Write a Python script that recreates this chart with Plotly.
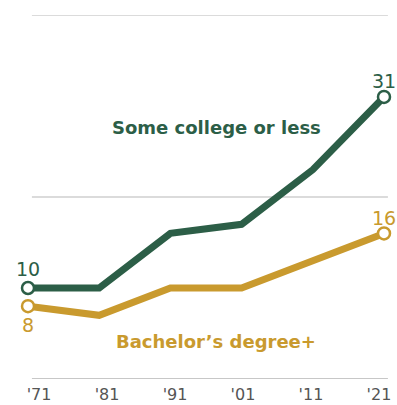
import plotly.graph_objects as go

years = [1971, 1981, 1991, 2001, 2011, 2021]
tick_labels = ["'71", "'81", "'91", "'01", "'11", "'21"]
some_college = [10, 10, 16, 17, 23, 31]
bachelors = [8, 7, 10, 10, 13, 16]

GREEN = "#2c5e47"
GOLD = "#c99a2e"
FONT = "DejaVu Sans"

fig = go.Figure()

for vals, col in [(bachelors, GOLD), (some_college, GREEN)]:
    fig.add_trace(go.Scatter(
        x=years, y=vals, mode="lines", line=dict(color=col, width=7),
        cliponaxis=False, hoverinfo="skip", showlegend=False))
    fig.add_trace(go.Scatter(
        x=[years[0], years[-1]], y=[vals[0], vals[-1]], mode="markers",
        marker=dict(size=12, color="white", line=dict(color=col, width=2.5)),
        cliponaxis=False, hoverinfo="skip", showlegend=False))

# invisible trace for the label axis
fig.add_trace(go.Scatter(x=years, y=[0]*len(years), xaxis="x2", mode="markers",
                         marker=dict(opacity=0), hoverinfo="skip", showlegend=False))

# gridlines
for gy, gc in [(0, "#b5b5b5"), (20, "#cfcfcf"), (40, "#cfcfcf")]:
    fig.add_shape(type="line", xref="paper", yref="y", x0=0.011, x1=1.011,
                  y0=gy, y1=gy, line=dict(color=gc, width=1.3), layer="below")

def lab(x, y, t, col, yshift, size=19):
    fig.add_annotation(x=x, y=y, text=t, showarrow=False, yshift=yshift,
                       font=dict(family=FONT, size=size, color=col))

lab(years[0], some_college[0], str(some_college[0]), GREEN, 19)
lab(years[-1], some_college[-1], str(some_college[-1]), GREEN, 16)
lab(years[0], bachelors[0], str(bachelors[0]), GOLD, -19)
lab(years[-1], bachelors[-1], str(bachelors[-1]), GOLD, 15)

fig.add_annotation(x=1997.5, y=27.6, text="<b>Some college or less</b>", showarrow=False,
                   font=dict(family=FONT, size=18, color=GREEN))
fig.add_annotation(x=1997.4, y=4.1, text="<b>Bachelor’s degree+</b>", showarrow=False,
                   font=dict(family=FONT, size=18, color=GOLD))

fig.update_layout(
    width=397, height=405,
    margin=dict(l=28, r=13, t=15, b=26, autoexpand=False),
    plot_bgcolor="white", paper_bgcolor="white",
    xaxis=dict(range=[1971, 2021], showgrid=False, zeroline=False, showticklabels=False,
               showline=False, automargin=False),
    xaxis2=dict(range=[1969.38, 2021.74], overlaying="x", anchor="y", side="bottom",
                tickvals=years, ticktext=tick_labels, showgrid=False, zeroline=False,
                showline=False, ticks="", ticklen=0, automargin=False,
                ticklabelstandoff=4,
                tickfont=dict(family=FONT, size=16, color="#555555")),
    yaxis=dict(range=[0, 40], showgrid=False, zeroline=False, showticklabels=False,
               showline=False, automargin=False),
)

fig.write_html("out.html")
